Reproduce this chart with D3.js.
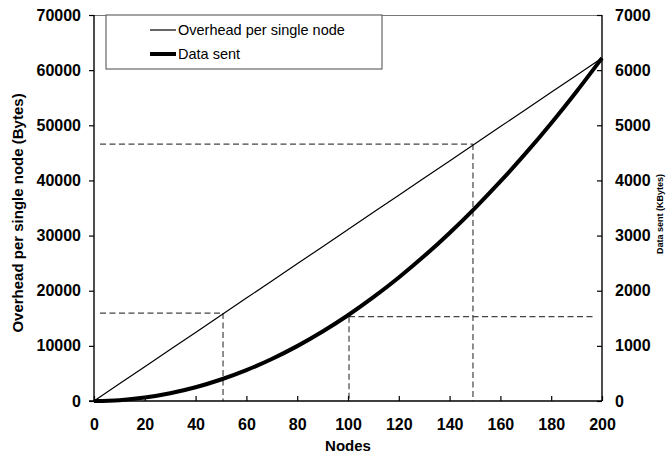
<!DOCTYPE html>
<html>
<head>
<meta charset="utf-8">
<script src="https://cdn.jsdelivr.net/npm/d3@7"></script>
<style>
	body { margin: 0; background: #fff; }
	text { font-family: Arial, "Liberation Sans", sans-serif; }
</style>
</head>
<body>
<div id="chart"></div>
<script>
// values
var nodes = [0, 10, 20, 30, 40, 50, 60, 70, 80, 90, 100, 110, 120, 130, 140, 150, 160, 170, 180, 190, 200];
var overheadBytes = [0, 3110, 6220, 9330, 12440, 15550, 18660, 21770, 24880, 27990, 31100, 34210, 37320, 40430, 43540, 46650, 49760, 52870, 55980, 59090, 62200];
var dataSentKB = [0, 15, 62, 140, 249, 390, 560, 762, 995, 1260, 1555, 1882, 2240, 2628, 3048, 3499, 3981, 4494, 5038, 5614, 6220];
var xTicks = [0, 20, 40, 60, 80, 100, 120, 140, 160, 180, 200];
var leftTicks = [0, 10000, 20000, 30000, 40000, 50000, 60000, 70000];
var rightTicks = [0, 1000, 2000, 3000, 4000, 5000, 6000, 7000];
// dashed guide lines: [node, value on left axis] and [node, value on right axis]
var guidesLeft = [[50.8, 15950], [149.2, 46600]];
var guidesRight = [[100.4, 1530]];

var width = 670, height = 455;
var margin = { left: 94, right: 68, top: 15, bottom: 54 };

var svg = d3.select("#chart").append("svg")
	.attr("width", width)
	.attr("height", height);

var x = d3.scaleLinear().domain([0, 200]).range([margin.left, width - margin.right]);
var yL = d3.scaleLinear().domain([0, 70000]).range([height - margin.bottom, margin.top]);
var yR = d3.scaleLinear().domain([0, 7000]).range([height - margin.bottom, margin.top]);

var x0 = x(0), x1 = x(200), yb = yL(0), yt = yL(70000);

// top border
svg.append("line")
	.attr("x1", x0).attr("x2", x1).attr("y1", yt + 0.5).attr("y2", yt + 0.5)
	.attr("stroke", "#777").attr("stroke-width", 1.2);

// dashed guides
var dash = "6,3.5";
guidesLeft.forEach(function(g) {
	svg.append("line")
		.attr("x1", x0 + 6).attr("x2", x(g[0])).attr("y1", yL(g[1])).attr("y2", yL(g[1]))
		.attr("stroke", "#444").attr("stroke-dasharray", dash).attr("stroke-width", 1.2);
	svg.append("line")
		.attr("x1", x(g[0])).attr("x2", x(g[0])).attr("y1", yL(g[1])).attr("y2", yb)
		.attr("stroke", "#444").attr("stroke-dasharray", dash).attr("stroke-width", 1.2);
});
guidesRight.forEach(function(g) {
	svg.append("line")
		.attr("x1", x(g[0])).attr("x2", x1 - 6).attr("y1", yR(g[1])).attr("y2", yR(g[1]))
		.attr("stroke", "#444").attr("stroke-dasharray", dash).attr("stroke-width", 1.2);
	svg.append("line")
		.attr("x1", x(g[0])).attr("x2", x(g[0])).attr("y1", yR(g[1])).attr("y2", yb)
		.attr("stroke", "#444").attr("stroke-dasharray", dash).attr("stroke-width", 1.2);
});

// series
var overheadLine = d3.line()
	.x(function(d, i) { return x(nodes[i]); })
	.y(function(d) { return yL(d); });
var sentLine = d3.line()
	.curve(d3.curveMonotoneX)
	.x(function(d, i) { return x(nodes[i]); })
	.y(function(d) { return yR(d); });

svg.append("path")
	.attr("d", overheadLine(overheadBytes))
	.attr("fill", "none").attr("stroke", "#000").attr("stroke-width", 1.2);
svg.append("path")
	.attr("d", sentLine(dataSentKB))
	.attr("fill", "none").attr("stroke", "#000").attr("stroke-width", 4);

// axes
var axisFont = function(g) {
	g.selectAll("text")
		.style("font-family", "Arial, 'Liberation Sans', sans-serif")
		.style("font-size", "16px")
		.style("font-weight", "bold")
		.attr("fill", "#000");
	g.selectAll("line").attr("stroke", "#000").attr("stroke-width", 1.2);
	g.select(".domain").remove();
};
var fmt = d3.format("d");

svg.append("g")
	.attr("transform", "translate(0," + yb + ")")
	.call(d3.axisBottom(x).tickValues(xTicks).tickFormat(fmt).tickSize(-5).tickPadding(18))
	.call(axisFont);

svg.append("g")
	.attr("transform", "translate(" + x0 + ",0)")
	.call(d3.axisLeft(yL).tickValues(leftTicks).tickFormat(fmt).tickSize(5).tickPadding(8))
	.call(axisFont);

svg.append("g")
	.attr("transform", "translate(" + x1 + ",0)")
	.call(d3.axisRight(yR).tickValues(rightTicks).tickFormat(fmt).tickSize(-5).tickPadding(13))
	.call(axisFont);

// axis lines
svg.append("line").attr("x1", x0).attr("x2", x0).attr("y1", yt).attr("y2", yb)
	.attr("stroke", "#000").attr("stroke-width", 1.4);
svg.append("line").attr("x1", x1).attr("x2", x1).attr("y1", yt).attr("y2", yb)
	.attr("stroke", "#000").attr("stroke-width", 1.4);
svg.append("line").attr("x1", x0 - 5).attr("x2", x1).attr("y1", yb).attr("y2", yb)
	.attr("stroke", "#000").attr("stroke-width", 1.4);

// axis titles
svg.append("text")
	.attr("x", (x0 + x1) / 2).attr("y", 451)
	.attr("text-anchor", "middle")
	.style("font-size", "15px").style("font-weight", "bold")
	.text("Nodes");

svg.append("text")
	.attr("transform", "translate(23,213) rotate(-90)")
	.attr("text-anchor", "middle")
	.style("font-size", "15px").style("font-weight", "bold")
	.text("Overhead per single node (Bytes)");

svg.append("text")
	.attr("transform", "translate(663,214) rotate(-90)")
	.attr("text-anchor", "middle")
	.style("font-size", "9px").style("font-weight", "bold")
	.text("Data sent (KBytes)");

// legend
var legend = svg.append("g");
legend.append("rect")
	.attr("x", 106).attr("y", yt).attr("width", 276).attr("height", 54)
	.attr("fill", "#fff").attr("stroke", "#666").attr("stroke-width", 1.2);
var legendItems = [
	{ label: "Overhead per single node", w: 1.2 },
	{ label: "Data sent", w: 4 }
];
legendItems.forEach(function(d, i) {
	var ly = 30 + i * 24;
	legend.append("line")
		.attr("x1", 150).attr("x2", 176).attr("y1", ly).attr("y2", ly)
		.attr("stroke", "#000").attr("stroke-width", d.w);
	legend.append("text")
		.attr("x", 178).attr("y", ly + 5)
		.style("font-size", "14.5px")
		.text(d.label);
});
</script>
</body>
</html>
